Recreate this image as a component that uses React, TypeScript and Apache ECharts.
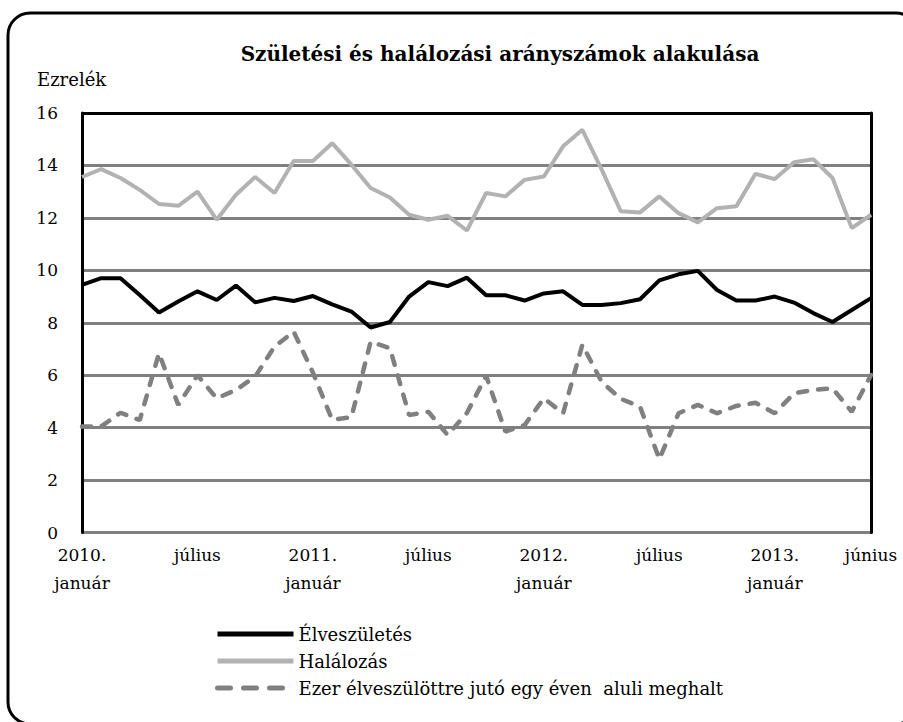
import React, { useEffect, useRef } from "react";
import * as echarts from "echarts";

const monthNames = ["január", "február", "március", "április", "május", "június", "július", "augusztus", "szeptember", "október", "november", "december"];
const years = [2010, 2011, 2012, 2013];
const categories: string[] = [];
years.forEach((y) => {
  monthNames.forEach((m, mi) => {
    if (y === 2013 && mi > 5) return;
    categories.push(mi === 0 ? `${y}.\n${m}` : m);
  });
});
const shownLabels = [0, 6, 12, 18, 24, 30, 36, 41];

const elveszuletes = [9.45, 9.7, 9.7, 9.06, 8.39, 8.81, 9.2, 8.87, 9.42, 8.78, 8.95, 8.83, 9.02, 8.7, 8.43, 7.82, 8.03, 9.0, 9.55, 9.4, 9.72, 9.05, 9.05, 8.85, 9.12, 9.2, 8.68, 8.68, 8.75, 8.9, 9.62, 9.85, 9.98, 9.25, 8.85, 8.85, 9.0, 8.77, 8.37, 8.03, 8.49, 8.94];
const halalozas = [13.56, 13.86, 13.52, 13.07, 12.53, 12.46, 13.0, 11.93, 12.88, 13.56, 12.95, 14.17, 14.17, 14.85, 14.03, 13.14, 12.78, 12.12, 11.93, 12.08, 11.52, 12.95, 12.82, 13.45, 13.58, 14.73, 15.36, 13.85, 12.25, 12.21, 12.82, 12.18, 11.83, 12.37, 12.44, 13.68, 13.48, 14.12, 14.24, 13.52, 11.61, 12.12];
const csecsemo = [4.05, 4.05, 4.57, 4.29, 6.84, 4.87, 6.0, 5.12, 5.44, 5.95, 7.09, 7.66, 6.1, 4.3, 4.4, 7.28, 7.03, 4.48, 4.61, 3.72, 4.56, 5.98, 3.85, 4.1, 5.12, 4.55, 7.16, 5.75, 5.1, 4.8, 2.8, 4.55, 4.87, 4.55, 4.83, 4.95, 4.55, 5.31, 5.44, 5.5, 4.61, 6.01];

const seriesNames = ["Élveszületés", "Halálozás", "Ezer élveszülöttre jutó egy éven  aluli meghalt"];
const FONT = "DejaVu Serif";

export default function App() {
  const ref = useRef<HTMLDivElement>(null);
  useEffect(() => {
    if (!ref.current) return;
    const chart = echarts.init(ref.current, null, { renderer: "svg" });
    const gridColors = ["#808080", "#808080", "#808080", "#808080", "#808080", "#808080", "#808080", "#808080", "#000000"];
    chart.setOption({
      animation: false,
      backgroundColor: "#ffffff",
      textStyle: { fontFamily: FONT, color: "#000" },
      title: {
        text: "Születési és halálozási arányszámok alakulása",
        left: 495,
        top: 39,
        textAlign: "center",
        textStyle: { fontFamily: FONT, fontSize: 20, fontWeight: "bold", color: "#000" },
      },
      graphic: [
        {
          type: "rect",
          shape: { x: 8, y: 13, width: 910, height: 711, r: 22 },
          style: { fill: "none", stroke: "#000", lineWidth: 3 },
          silent: true,
        },
        {
          type: "text",
          left: 37,
          top: 70,
          style: { text: "Ezrelék", fontFamily: FONT, fontSize: 18, fill: "#000" },
        },
      ],
      grid: { left: 82, right: 32, top: 113, bottom: 189.4, containLabel: false },
      legend: {
        orient: "vertical",
        left: 210,
        top: 620,
        itemWidth: 76,
        itemHeight: 18,
        itemGap: 9,
        itemStyle: { opacity: 0 },
        data: [
          { name: seriesNames[0], itemStyle: { opacity: 0 }, lineStyle: { width: 5, color: "#000" } },
          { name: seriesNames[1], itemStyle: { opacity: 0 }, lineStyle: { width: 5, color: "#b2b2b2" } },
          { name: seriesNames[2], itemStyle: { opacity: 0 }, lineStyle: { width: 5, color: "#808080", type: [13, 13], cap: "round" } },
        ],
        textStyle: { fontFamily: FONT, fontSize: 18, color: "#000" },
      },
      xAxis: {
        type: "category",
        data: categories,
        boundaryGap: false,
        axisLine: { show: false },
        axisTick: { show: false },
        axisLabel: {
          interval: (i: number) => shownLabels.includes(i),
          fontFamily: FONT,
          fontSize: 17,
          lineHeight: 28,
          color: "#000",
          margin: 8,
        },
      },
      yAxis: [
        {
          type: "value",
          min: 0,
          max: 16,
          interval: 2,
          axisLine: { show: true, lineStyle: { color: "#000", width: 3 } },
          axisTick: { show: false },
          axisLabel: { fontFamily: FONT, fontSize: 17, color: "#000", margin: 24 },
          splitLine: { show: true, lineStyle: { color: gridColors, width: 3 } },
        },
        {
          type: "value",
          min: 0,
          max: 16,
          interval: 2,
          position: "right",
          axisLine: { show: true, lineStyle: { color: "#000", width: 3 } },
          axisTick: { show: false },
          axisLabel: { show: false },
          splitLine: { show: false },
        },
      ],
      series: [
        {
          name: seriesNames[0],
          type: "line",
          data: elveszuletes,
          symbol: "none",
          lineStyle: { color: "#000", width: 4 },
          itemStyle: { color: "#000" },
          z: 4,
        },
        {
          name: seriesNames[1],
          type: "line",
          data: halalozas,
          symbol: "none",
          lineStyle: { color: "#b2b2b2", width: 4 },
          itemStyle: { color: "#b2b2b2" },
          z: 3,
        },
        {
          name: seriesNames[2],
          type: "line",
          data: csecsemo,
          symbol: "none",
          lineStyle: { color: "#808080", width: 4.5, type: [9, 11], cap: "round" },
          itemStyle: { color: "#808080" },
          z: 3,
        },
      ],
    });
    return () => chart.dispose();
  }, []);
  return <div ref={ref} style={{ position: "fixed", left: 0, top: 0, width: 903, height: 722 }} />;
}
